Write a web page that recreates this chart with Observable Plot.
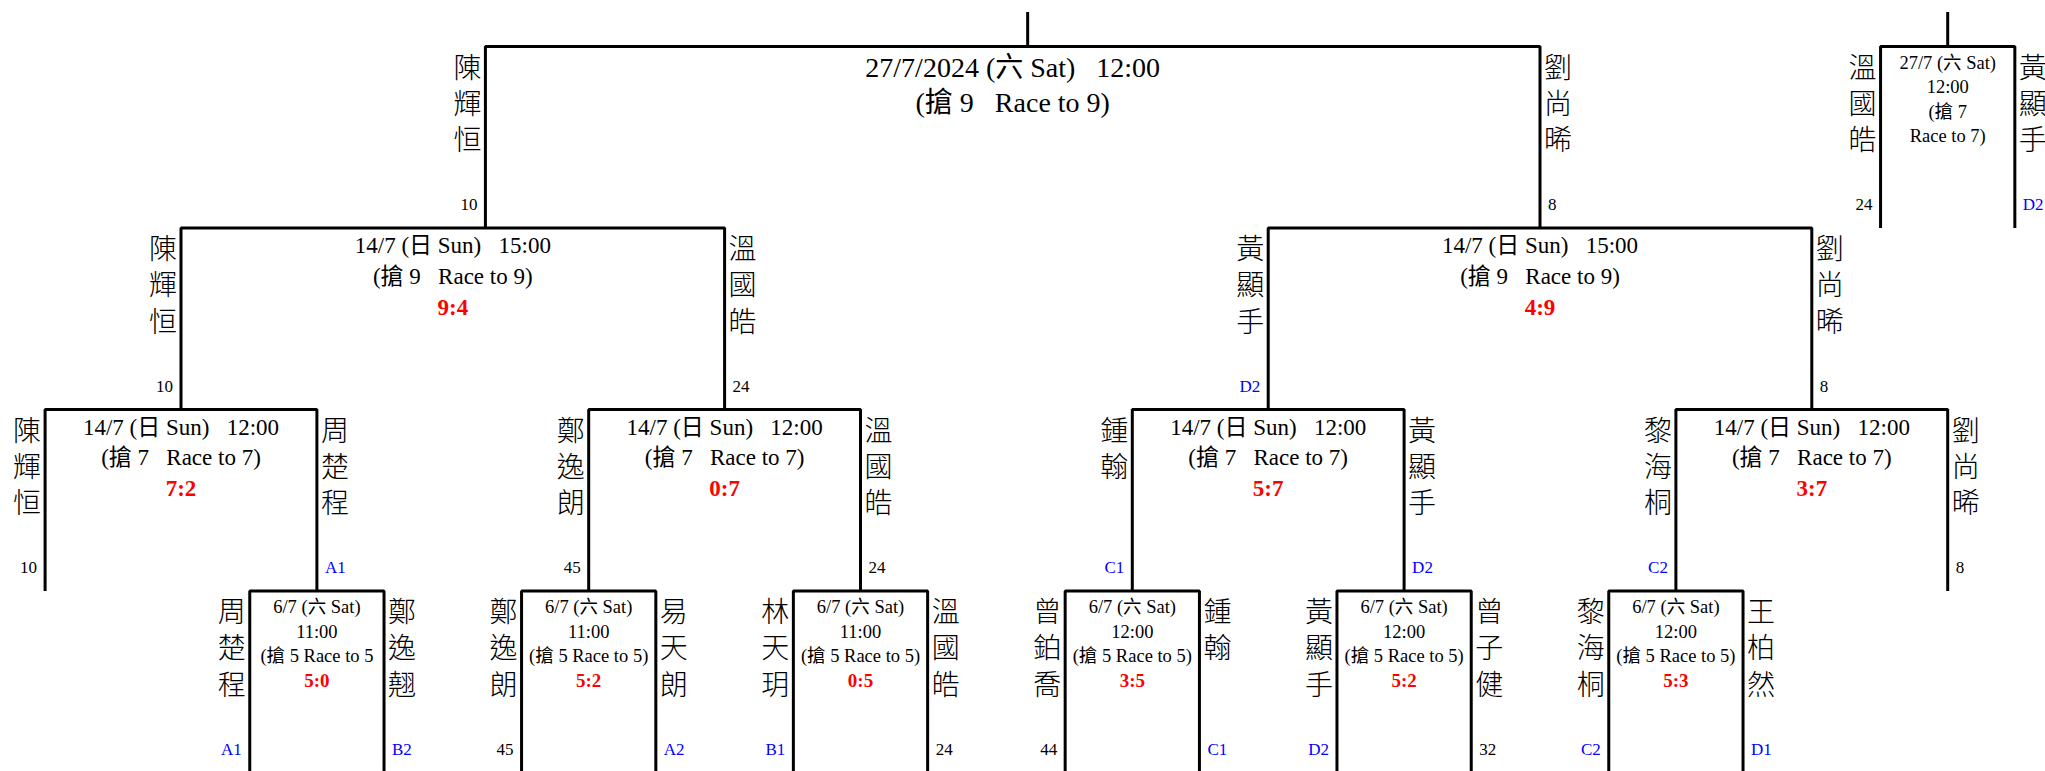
<!DOCTYPE html>
<html>
<head>
<meta charset="utf-8">
<script src="https://cdn.jsdelivr.net/npm/d3@7"></script>
<script src="https://cdn.jsdelivr.net/npm/@observablehq/plot@0.6"></script>
<style>
  html, body { margin: 0; padding: 0; background: #fff; overflow: hidden; }
  #chart svg { display: block; }
</style>
</head>
<body>
<div id="chart"></div>
<script>
// ================= DATA =================
const matchIds    = ["F", "TP", "SF1", "SF2", "QF1", "QF2", "QF3", "QF4", "R1", "R2", "R3", "R4", "R5", "R6"];
const roundLevel  = [0, 0, 1, 1, 2, 2, 2, 2, 3, 3, 3, 3, 3, 3];
const leftPlayer  = ["陳輝恒", "溫國皓", "陳輝恒", "黃顯手", "陳輝恒", "鄭逸朗", "鍾翰", "黎海桐", "周楚程", "鄭逸朗", "林天玥", "曾鉑喬", "黃顯手", "黎海桐"];
const rightPlayer = ["劉尚晞", "黃顯手", "溫國皓", "劉尚晞", "周楚程", "溫國皓", "黃顯手", "劉尚晞", "鄭逸翹", "易天朗", "溫國皓", "鍾翰", "曾子健", "王柏然"];
const leftSeed    = ["10", "24", "10", "D2", "10", "45", "C1", "C2", "A1", "45", "B1", "44", "D2", "C2"];
const rightSeed   = ["8", "D2", "24", "8", "A1", "24", "D2", "8", "B2", "A2", "24", "C1", "32", "D1"];
const matchDate   = ["27/7/2024 (六 Sat)", "27/7 (六 Sat)", "14/7 (日 Sun)", "14/7 (日 Sun)", "14/7 (日 Sun)", "14/7 (日 Sun)", "14/7 (日 Sun)", "14/7 (日 Sun)", "6/7 (六 Sat)", "6/7 (六 Sat)", "6/7 (六 Sat)", "6/7 (六 Sat)", "6/7 (六 Sat)", "6/7 (六 Sat)"];
const matchTime   = ["12:00", "12:00", "15:00", "15:00", "12:00", "12:00", "12:00", "12:00", "11:00", "11:00", "11:00", "12:00", "12:00", "12:00"];
const raceLabel   = ["(搶 9   Race to 9)", "(搶 7\nRace to 7)", "(搶 9   Race to 9)", "(搶 9   Race to 9)",
                     "(搶 7   Race to 7)", "(搶 7   Race to 7)", "(搶 7   Race to 7)", "(搶 7   Race to 7)",
                     "(搶 5 Race to 5", "(搶 5 Race to 5)", "(搶 5 Race to 5)", "(搶 5 Race to 5)", "(搶 5 Race to 5)", "(搶 5 Race to 5)"];
const matchScore  = ["", "", "9:4", "4:9", "7:2", "0:7", "5:7", "3:7", "5:0", "5:2", "0:5", "3:5", "5:2", "5:3"];
// bracket structure: where each side comes from (a match id, or a bye draw position)
const leftFrom    = ["SF1", null, "QF1", "QF3", 0, "R2", "R4", "R6", null, null, null, null, null, null];
const rightFrom   = ["SF2", null, "QF2", "QF4", "R1", "R3", "R5", 7, null, null, null, null, null, null];
// draw position of single-slot matches (first round, and the 3rd-place match)
const drawPos     = [null, 7, null, null, null, null, null, null, 1, 2, 3, 4, 5, 6];

// ================= LAYOUT / STYLE =================
const BOX_HALF = 0.247;       // half width of a single-slot box (slot units)
const FINAL_LEFT = 1.62;      // final's left connector (drawn off-centre in the source)
const FINAL_STUB = 3.615;
const STUB_TOP = -0.19;
const FONT = "'Liberation Serif', 'Times New Roman', 'Noto Sans CJK TC', serif";
const CJK = "'Noto Sans CJK TC', 'Noto Sans CJK SC', sans-serif";
const NB = "\u00a0";
const TEXT_STYLE = {
  final:  {fontSize: 28,   first: 30.7, step: 34.3, scoreSize: 23},
  mid:    {fontSize: 23,   first: 25,   step: 30.75, scoreSize: 23},
  narrow: {fontSize: 18.5, first: 22.3, step: 24.5, scoreSize: 19}
};

// ================= BUILD TABLES =================
const index = Object.fromEntries(matchIds.map((id, i) => [id, i]));
const edgeCache = {};
function edgesOf(i) {
  if (edgeCache[i]) return edgeCache[i];
  let e;
  if (drawPos[i] != null) e = [drawPos[i] - BOX_HALF, drawPos[i] + BOX_HALF];
  else e = [centerOf(leftFrom[i]), centerOf(rightFrom[i])];
  if (matchIds[i] === "F") e = [FINAL_LEFT, e[1]];
  return (edgeCache[i] = e);
}
function centerOf(src) {
  if (typeof src === "number") return src;
  const e = edgesOf(index[src]);
  return (e[0] + e[1]) / 2;
}
const groupOf = (i) => drawPos[i] != null ? "narrow" : (roundLevel[i] === 0 ? "final" : "mid");

const framePts = [];
const infoRows = [];
const nameRows = [];
const seedRows = [];
matchIds.forEach((id, i) => {
  const lvl = roundLevel[i];
  const [a, b] = edgesOf(i);
  framePts.push({m: id, x: a, y: lvl + 1}, {m: id, x: a, y: lvl}, {m: id, x: b, y: lvl}, {m: id, x: b, y: lvl + 1});
  const g = groupOf(i);
  const cx = (a + b) / 2;
  const lines = g === "narrow"
    ? [matchDate[i], matchTime[i], ...raceLabel[i].split("\n")]
    : [matchDate[i] + NB + NB + NB + matchTime[i], raceLabel[i]];
  lines.forEach((t, k) => infoRows.push({g, k, x: cx, y: lvl, text: t.replace(/ /g, NB), score: false}));
  if (matchScore[i]) infoRows.push({g, k: lines.length, x: cx, y: lvl, text: matchScore[i], score: true});
  nameRows.push({side: "L", x: a, y: lvl, text: [...leftPlayer[i]].join("\n")});
  nameRows.push({side: "R", x: b, y: lvl, text: [...rightPlayer[i]].join("\n")});
  const col = (s) => /^[A-Z]/.test(s) ? "#0000ff" : "#000000";
  seedRows.push({side: "L", x: a, y: lvl + 1, text: leftSeed[i], color: col(leftSeed[i])});
  seedRows.push({side: "R", x: b, y: lvl + 1, text: rightSeed[i], color: col(rightSeed[i])});
});
// connectors that lead up out of the final and 3rd-place boxes
const stubPts = [
  {m: "F", x: FINAL_STUB, y: STUB_TOP}, {m: "F", x: FINAL_STUB, y: 0},
  {m: "TP", x: drawPos[index.TP], y: STUB_TOP}, {m: "TP", x: drawPos[index.TP], y: 0}
];

// ================= MARKS =================
const marks = [
  Plot.line(framePts, {x: "x", y: "y", z: "m", stroke: "#000", strokeWidth: 3, strokeLinejoin: "miter", strokeLinecap: "butt"}),
  Plot.line(stubPts, {x: "x", y: "y", z: "m", stroke: "#000", strokeWidth: 3, strokeLinecap: "butt"})
];
for (const g of Object.keys(TEXT_STYLE)) {
  const st = TEXT_STYLE[g];
  const ks = [...new Set(infoRows.filter(r => r.g === g).map(r => r.k))];
  for (const k of ks) {
    const rows = infoRows.filter(r => r.g === g && r.k === k && !r.score);
    if (rows.length) marks.push(Plot.text(rows, {x: "x", y: "y", text: "text", dy: st.first + k * st.step, lineAnchor: "bottom", fontSize: st.fontSize, fill: "#000"}));
    const sc = infoRows.filter(r => r.g === g && r.k === k && r.score);
    if (sc.length) marks.push(Plot.text(sc, {x: "x", y: "y", text: "text", dy: st.first + k * st.step, lineAnchor: "bottom", fontSize: st.scoreSize, fontWeight: "bold", fill: "#ff0000"}));
  }
}
marks.push(
  Plot.text(nameRows.filter(d => d.side === "L"), {x: "x", y: "y", text: "text", textAnchor: "end", lineAnchor: "top", dx: -4, dy: 5.7, fontSize: 28, fontWeight: 300, fontFamily: CJK, lineHeight: 1.29, fill: "#000"}),
  Plot.text(nameRows.filter(d => d.side === "R"), {x: "x", y: "y", text: "text", textAnchor: "start", lineAnchor: "top", dx: 4, dy: 5.7, fontSize: 28, fontWeight: 300, fontFamily: CJK, lineHeight: 1.29, fill: "#000"}),
  Plot.text(seedRows.filter(d => d.side === "L"), {x: "x", y: "y", text: "text", textAnchor: "end", lineAnchor: "bottom", dx: -8, dy: -18, fontSize: 17, fill: "color"}),
  Plot.text(seedRows.filter(d => d.side === "R"), {x: "x", y: "y", text: "text", textAnchor: "start", lineAnchor: "bottom", dx: 8, dy: -18, fontSize: 17, fill: "color"})
);

const chart = Plot.plot({
  width: 2045,
  height: 771,
  margin: 0,
  x: {domain: [0, 7], range: [44.6, 1947.2], axis: null},
  y: {domain: [0, 4], range: [46, 772], axis: null},
  color: {type: "identity"},
  style: {fontFamily: FONT, background: "#fff", color: "#000"},
  marks
});
document.getElementById("chart").appendChild(chart);
</script>
</body>
</html>
